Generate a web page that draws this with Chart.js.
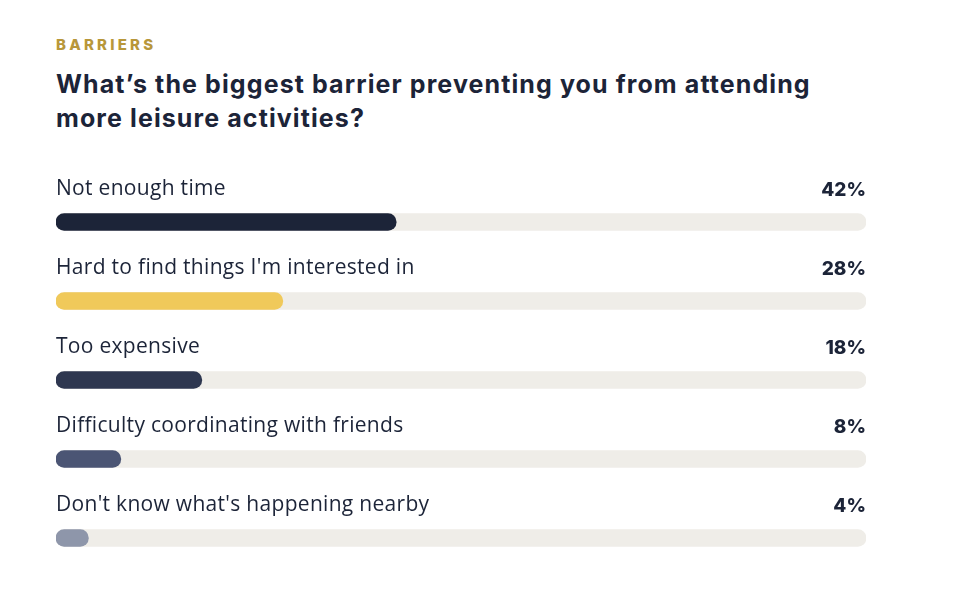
<!DOCTYPE html>
<html>
<head>
<meta charset="utf-8">
<script src="https://cdn.jsdelivr.net/npm/chart.js@4.4.1/dist/chart.umd.min.js"></script>
<style>
  html, body { margin: 0; padding: 0; background: #fff; }
  body { width: 980px; height: 594px; position: relative; overflow: hidden; }
  .kicker {
    position: absolute; left: 56px; top: 35px;
    font-family: Inter, sans-serif; font-weight: 800; font-size: 15px;
    letter-spacing: 3.2px; color: #b8973a;
  }
  h1 {
    position: absolute; left: 56px; top: 67px; margin: 0; width: 860px;
    font-family: Inter, sans-serif; font-weight: 700; font-size: 25px;
    line-height: 34px; color: #1c2438; letter-spacing: 1.1px;
  }
  #wrap { position: absolute; left: 0; top: 0; width: 980px; height: 594px; }
</style>
</head>
<body>
<div class="kicker">BARRIERS</div>
<h1>What’s the biggest barrier preventing you from attending<br>more leisure activities?</h1>
<div id="wrap"><canvas id="grafico"></canvas></div>
<script>
const categorias = [
  "Not enough time",
  "Hard to find things I'm interested in",
  "Too expensive",
  "Difficulty coordinating with friends",
  "Don't know what's happening nearby"
];
const valores = [42, 28, 18, 8, 4];
const fundo = [100, 100, 100, 100, 100];
const cores = ["#1c2438", "#f0c95a", "#2e3750", "#4b5574", "#8e96aa"];

const rotulos = {
  id: "rotulos",
  afterDatasetsDraw(chart) {
    const ctx = chart.ctx;
    const meta = chart.getDatasetMeta(1);
    const area = chart.chartArea;
    ctx.save();
    ctx.textBaseline = "middle";
    meta.data.forEach((bar, i) => {
      const y = bar.y - 33;
      ctx.fillStyle = "#1c2438";
      ctx.font = "400 21px 'Open Sans', sans-serif";
      ctx.letterSpacing = "0.3px";
      ctx.textAlign = "left";
      ctx.fillText(categorias[i], area.left, y);
      ctx.font = "800 19px Inter, sans-serif";
      ctx.letterSpacing = "0px";
      ctx.textAlign = "right";
      ctx.fillText(valores[i] + "%", area.right, y + 1);
    });
    ctx.restore();
  }
};

const ctx = document.getElementById("grafico").getContext("2d");
const chart = new Chart(ctx, {
  type: "bar",
  data: {
    labels: categorias,
    datasets: [
      {
        data: fundo,
        backgroundColor: "#efede8",
        borderRadius: 9,
        borderSkipped: false,
        barThickness: 17,
        grouped: false,
        order: 2
      },
      {
        data: valores,
        backgroundColor: cores,
        borderRadius: 9,
        borderSkipped: false,
        barThickness: 17,
        grouped: false,
        order: 1
      }
    ]
  },
  options: {
    indexAxis: "y",
    responsive: true,
    maintainAspectRatio: false,
    animation: false,
    layout: { padding: { left: 56, right: 114, top: 182.5, bottom: 16.5 } },
    scales: {
      x: { display: false, min: 0, max: 100 },
      y: { display: false }
    },
    plugins: {
      legend: { display: false },
      tooltip: { enabled: false }
    }
  },
  plugins: [rotulos]
});
</script>
</body>
</html>
